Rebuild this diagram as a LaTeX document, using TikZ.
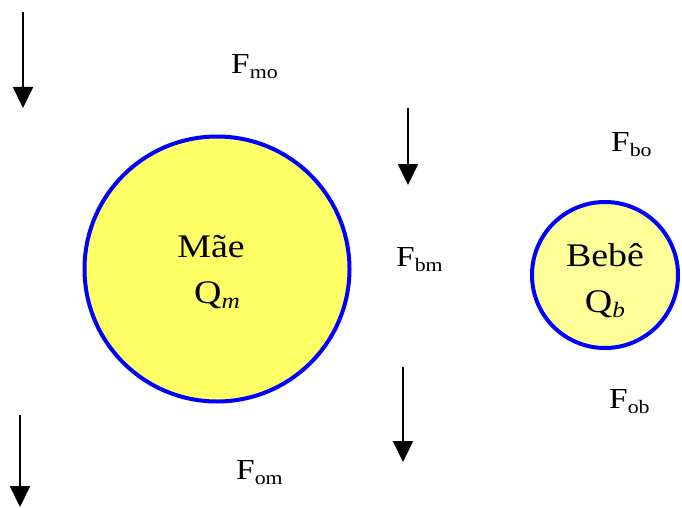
\documentclass[tikz,border=0pt]{standalone}
\usepackage{fontspec}
\setmainfont{Liberation Serif}[FakeStretch=1.15]
\usetikzlibrary{arrows.meta}
\definecolor{amarelo}{RGB}{255,255,102}
\definecolor{amarelocl}{RGB}{255,255,153}
\definecolor{azul}{RGB}{0,0,255}
\newcommand{\forca}[1]{F\raisebox{-5pt}{\fontsize{19}{19}\selectfont #1}}
\newcommand{\carga}[1]{Q\raisebox{-5pt}{\fontsize{22}{22}\selectfont\itshape #1}}
\tikzset{
  corpo/.style  = {circle, draw=azul, line width=4pt, inner sep=0pt},
  nome/.style   = {align=center, inner sep=0pt, font=\fontsize{33}{46}\selectfont},
  seta/.style   = {-{Triangle[width=20pt,length=21pt]}, line width=2pt},
  rotulo/.style = {anchor=base west, inner sep=0pt, font=\fontsize{29}{29}\selectfont},
}

\begin{document}
\begin{tikzpicture}[x=1pt, y=-1pt]
  \useasboundingbox (0,0) rectangle (682,508);
  % corpos
  \node[corpo, fill=amarelo, minimum size=265pt] (mae) at (217,269) {};
  \node[corpo, fill=amarelocl, minimum size=146pt] (bebe) at (605,275) {};
  \node[nome, yshift=-3pt] (maetxt) at (mae) {M\~ae\hspace*{12pt}\\\carga{m}};
  \node[nome, yshift=-6pt] (bebetxt) at (bebe) {Beb\^e\\\carga{b}};
  % setas
  \coordinate (s1a) at (23,12);   \coordinate (s1b) at (23,108);
  \coordinate (s2a) at (408,108); \coordinate (s2b) at (408,185);
  \coordinate (s3a) at (403,367); \coordinate (s3b) at (403,462);
  \coordinate (s4a) at (20,415);  \coordinate (s4b) at (20,507);
  \draw[seta] (s1a) -- (s1b);
  \draw[seta] (s2a) -- (s2b);
  \draw[seta] (s3a) -- (s3b);
  \draw[seta] (s4a) -- (s4b);
  % forcas
  \node[rotulo] (fmo) at (231,74)  {\forca{mo}};
  \node[rotulo] (fbm) at (396,266) {\forca{bm}};
  \node[rotulo] (fom) at (236,479) {\forca{om}};
  \node[rotulo] (fbo) at (611,151) {\forca{bo}};
  \node[rotulo] (fob) at (609,408) {\forca{ob}};
\end{tikzpicture}
\end{document}
